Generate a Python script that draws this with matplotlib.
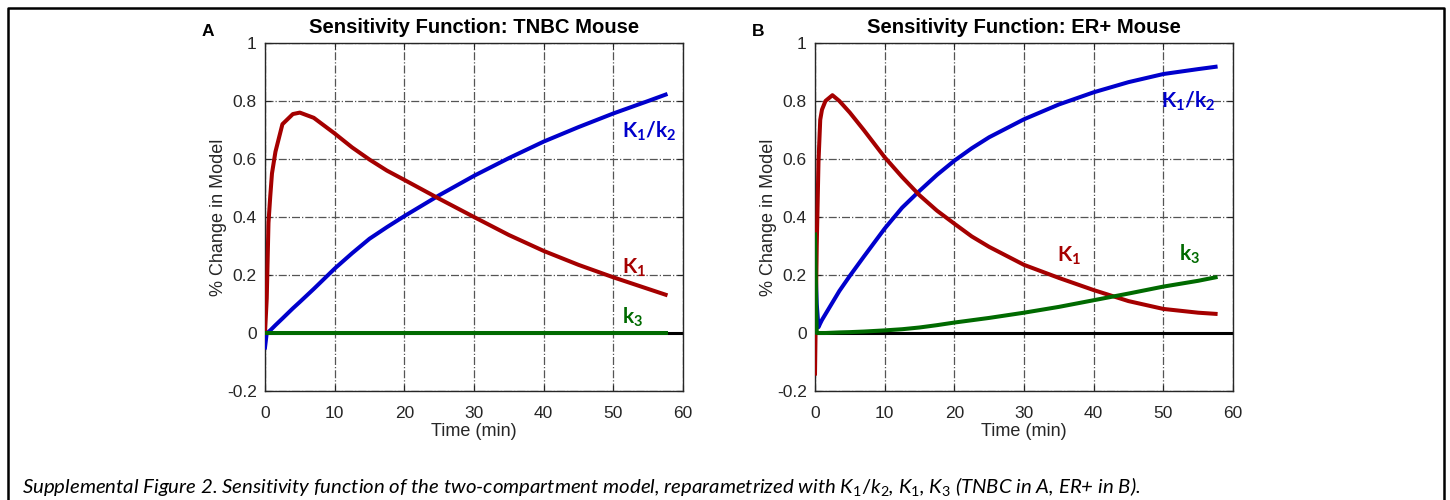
import numpy as np
import matplotlib
matplotlib.use("Agg")
from matplotlib import pyplot as plt
from matplotlib.lines import Line2D

plt.rcParams['font.family'] = ['Liberation Sans', 'DejaVu Sans']
plt.rcParams['mathtext.fontset'] = 'custom'
plt.rcParams['mathtext.rm'] = 'Lato'
plt.rcParams['mathtext.it'] = 'Lato:italic'
plt.rcParams['mathtext.bf'] = 'Lato:bold'

# ---- data ----
timeA = [0, 0.25, 0.5, 0.75, 1.0, 1.5, 2.5, 4, 5, 7, 10, 12.5, 15, 17.5, 20, 25, 30, 35, 40, 45, 50,
         55, 57.5]
ratioA = [-0.05, 0.0, 0.004, 0.009, 0.015, 0.027, 0.05, 0.085, 0.107, 0.152, 0.222, 0.275, 0.325,
          0.365, 0.403, 0.475, 0.542, 0.603, 0.66, 0.71, 0.757, 0.80, 0.822]
K1A = [0.0, 0.12, 0.38, 0.47, 0.55, 0.625, 0.72, 0.755, 0.76, 0.742, 0.688, 0.64, 0.598, 0.56,
       0.528, 0.463, 0.40, 0.338, 0.283, 0.235, 0.192, 0.152, 0.132]
k3A = [np.nan, 0, 0, 0, 0, 0, 0, 0, 0, 0, 0, 0, 0, 0, 0, 0, 0, 0, 0, 0, 0, 0, 0]

timeB = [0, 0.25, 0.5, 0.75, 1.0, 1.5, 2.5, 3.5, 5, 7, 10, 12.5, 15, 17.5, 20, 22.5, 25, 30, 35,
         40, 45, 50, 55, 57.5]
ratioB = [0.29, 0.1, 0.02, 0.033, 0.045, 0.065, 0.105, 0.145, 0.197, 0.263, 0.36, 0.432, 0.49,
          0.545, 0.594, 0.637, 0.675, 0.737, 0.788, 0.83, 0.865, 0.893, 0.91, 0.918]
K1B = [-0.14, 0.30, 0.59, 0.735, 0.77, 0.80, 0.82, 0.80, 0.76, 0.70, 0.606, 0.538, 0.475, 0.422,
       0.377, 0.333, 0.297, 0.235, 0.19, 0.148, 0.11, 0.083, 0.07, 0.066]
k3B = [0.34, 0.0, 0.0, 0.0, 0.0, 0.0, 0.001, 0.002, 0.003, 0.005, 0.009, 0.013, 0.019, 0.027,
       0.036, 0.044, 0.052, 0.07, 0.09, 0.113, 0.136, 0.16, 0.18, 0.192]

xticks = [0, 10, 20, 30, 40, 50, 60]
yticks = [-0.2, 0, 0.2, 0.4, 0.6, 0.8, 1]
yticklabels = ['-0.2', '0', '0.2', '0.4', '0.6', '0.8', '1']

titles = ['Sensitivity Function: TNBC Mouse', 'Sensitivity Function: ER+ Mouse']
letters = ['A', 'B']
caption = ('Supplemental Figure 2. Sensitivity function of the two-compartment model, reparametrized with '
           r'$\mathit{K_1/k_2}$, $\mathit{K_1}$, $\mathit{K_3}$ (TNBC in A, ER+ in B).')

BLUE = '#0000cc'
RED = '#a50000'
GREEN = '#006a00'
GRAY = '#262626'

fig = plt.figure(figsize=(14.5, 5), dpi=100)

# panel A and B axes, same geometry
axA = fig.add_axes([265 / 1450, 1 - 391 / 500, 418 / 1450, 348 / 500])
axB = fig.add_axes([815 / 1450, 1 - 391 / 500, 418 / 1450, 348 / 500])

panels = [
    (axA, timeA, ratioA, K1A, k3A),
    (axB, timeB, ratioB, K1B, k3B),
]

for i, (ax, t, r, k1, k3) in enumerate(panels):
    ax.axhline(0, color='black', lw=2.2, zorder=2)
    ax.plot(t, r, color=BLUE, lw=2.9, zorder=3)
    ax.plot(t, k1, color=RED, lw=2.9, zorder=3)
    ax.plot(t, k3, color=GREEN, lw=2.9, zorder=4)

    ax.set_xlim(0, 60)
    ax.set_ylim(-0.2, 1)
    ax.set_xticks(xticks)
    ax.set_yticks(yticks)
    ax.set_yticklabels(yticklabels)
    ax.grid(True, linestyle='-.', color='#555555', lw=0.9)
    ax.set_axisbelow(True)
    ax.tick_params(direction='in', length=4, width=0.8, top=True, right=True,
                   labelsize=12.5, colors=GRAY, labelcolor=GRAY)
    ax.tick_params(axis='x', pad=11)
    ax.tick_params(axis='y', pad=6)
    for s in ax.spines.values():
        s.set_color(GRAY)
        s.set_linewidth(1.0)

    ax.set_title(titles[i], fontsize=14.6, fontweight='bold', pad=7)
    ax.set_xlabel('Time (min)', fontsize=13, color=GRAY, labelpad=1)
    ax.set_ylabel('% Change in Model', fontsize=13, color=GRAY, labelpad=0)

    fx = ax.get_position().x0
    fig.text(fx - 63 / 1450, 1 - 31 / 500, letters[i], fontsize=12.5, fontweight='bold',
             ha='left', va='center')

# curve labels
lab = dict(fontsize=15, ha='left', va='center')
axA.text(51.3, 0.695, r'$\mathbf{K_1/k_2}$', color=BLUE, **lab)
axA.text(51.3, 0.225, r'$\mathbf{K_1}$', color=RED, **lab)
axA.text(51.3, 0.055, r'$\mathbf{k_3}$', color=GREEN, **lab)
axB.text(49.7, 0.80, r'$\mathbf{K_1/k_2}$', color=BLUE, **lab)
axB.text(34.8, 0.265, r'$\mathbf{K_1}$', color=RED, **lab)
axB.text(52.2, 0.27, r'$\mathbf{k_3}$', color=GREEN, **lab)

# frame around the figure (open at the bottom)
bx0, bx1, by = 7.5 / 1450, 1444 / 1450, 1 - 7.5 / 500
fig.add_artist(Line2D([bx0, bx0, bx1, bx1], [0, by, by, 0], color='black', lw=1.8,
                      transform=fig.transFigure))

fig.text(22 / 1450, 1 - 486 / 500, caption, fontsize=14.7, style='italic',
         family=['Lato', 'DejaVu Sans'], ha='left', va='center')

fig.savefig('out.png', dpi=100, facecolor='white')
